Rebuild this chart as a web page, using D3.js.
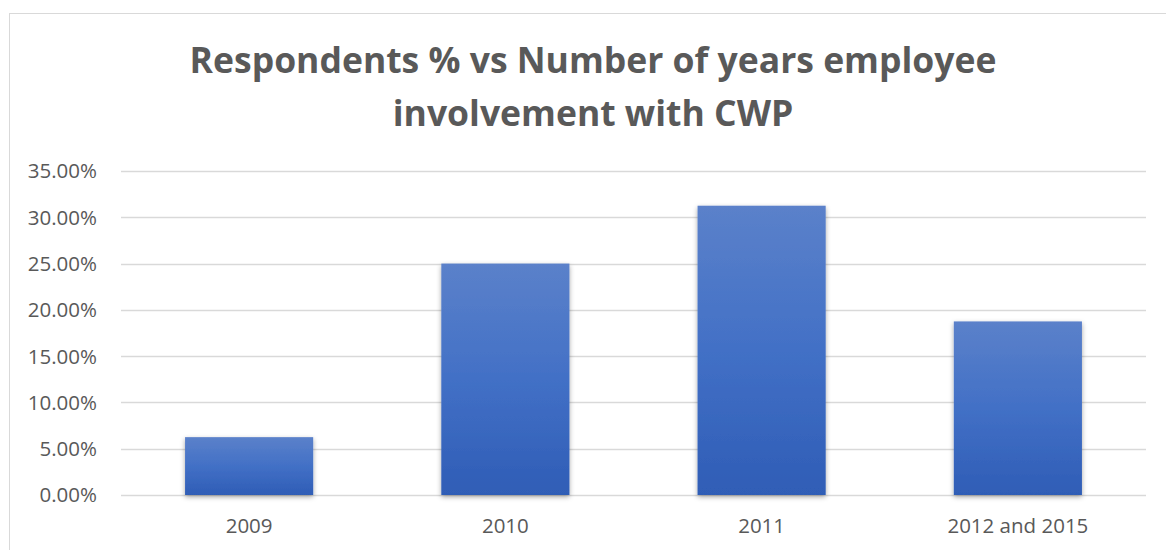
<!DOCTYPE html>
<html>
<head>
<meta charset="utf-8">
<script src="https://cdn.jsdelivr.net/npm/d3@7"></script>
<style>
  body { margin: 0; background: #fff; }
  text { font-family: "Open Sans", "Liberation Sans", sans-serif; }
</style>
</head>
<body>
<script>
// chart data
var categories = ["2009", "2010", "2011", "2012 and 2015"];
var values = [0.0625, 0.25, 0.3125, 0.1875];
var yTicks = [0, 0.05, 0.10, 0.15, 0.20, 0.25, 0.30, 0.35];
var titleLines = ["Respondents % vs Number of years employee", "involvement with CWP"];

var width = 1166,
    height = 550;

var margin = {left: 121, right: 20, top: 171, bottom: 55};

var svg = d3.select("body").append("svg")
    .attr("width", width)
    .attr("height", height);

// outer chart frame
svg.append("rect")
    .attr("x", 9.5)
    .attr("y", 13.5)
    .attr("width", width)
    .attr("height", height)
    .attr("fill", "none")
    .attr("stroke", "#d9d9d9");

var defs = svg.append("defs");

var grad = defs.append("linearGradient")
    .attr("id", "barGrad")
    .attr("x1", 0).attr("y1", 0)
    .attr("x2", 0).attr("y2", 1);
grad.append("stop").attr("offset", "0%").attr("stop-color", "#5b81ca");
grad.append("stop").attr("offset", "50%").attr("stop-color", "#4270c6");
grad.append("stop").attr("offset", "100%").attr("stop-color", "#2f5db6");

var shadow = defs.append("filter")
    .attr("id", "shadow")
    .attr("x", "-20%").attr("y", "-20%")
    .attr("width", "140%").attr("height", "140%");
shadow.append("feDropShadow")
    .attr("dx", 0).attr("dy", 2)
    .attr("stdDeviation", 2.5)
    .attr("flood-color", "#000")
    .attr("flood-opacity", 0.35);

var x = d3.scaleBand()
    .domain(categories)
    .range([margin.left, 1146])
    .paddingInner(0.5)
    .paddingOuter(0.25);

var y = d3.scaleLinear()
    .domain([0, 0.35])
    .range([495, margin.top]);

// gridlines
svg.append("g")
    .selectAll("line")
    .data(yTicks)
    .enter()
    .append("line")
    .attr("x1", margin.left)
    .attr("x2", 1146)
    .attr("y1", function(d) { return Math.round(y(d)) + 0.5; })
    .attr("y2", function(d) { return Math.round(y(d)) + 0.5; })
    .attr("stroke", "#d9d9d9")
    .attr("stroke-width", 1.5);

// y tick labels
svg.append("g")
    .selectAll("text")
    .data(yTicks)
    .enter()
    .append("text")
    .attr("x", 97)
    .attr("y", function(d) { return y(d); })
    .attr("dy", "0.36em")
    .attr("text-anchor", "end")
    .attr("font-size", 20.5)
    .attr("fill", "#595959")
    .text(function(d) { return d3.format(".2%")(d); });

// bars
svg.append("g")
    .selectAll("rect")
    .data(values)
    .enter()
    .append("rect")
    .attr("x", function(d, i) { return x(categories[i]); })
    .attr("width", x.bandwidth())
    .attr("y", function(d) { return y(d); })
    .attr("height", function(d) { return y(0) - y(d); })
    .attr("fill", "url(#barGrad)")
    .attr("filter", "url(#shadow)");

// category labels
svg.append("g")
    .selectAll("text")
    .data(categories)
    .enter()
    .append("text")
    .attr("x", function(d) { return x(d) + x.bandwidth() / 2; })
    .attr("y", 533)
    .attr("text-anchor", "middle")
    .attr("font-size", 20.5)
    .attr("fill", "#595959")
    .text(function(d) { return d; });

// title
svg.append("g")
    .selectAll("text")
    .data(titleLines)
    .enter()
    .append("text")
    .attr("x", 593)
    .attr("y", function(d, i) { return 73 + i * 53; })
    .attr("text-anchor", "middle")
    .attr("font-size", 35.5)
    .attr("font-weight", "bold")
    .attr("fill", "#595959")
    .text(function(d) { return d; });
</script>
</body>
</html>
